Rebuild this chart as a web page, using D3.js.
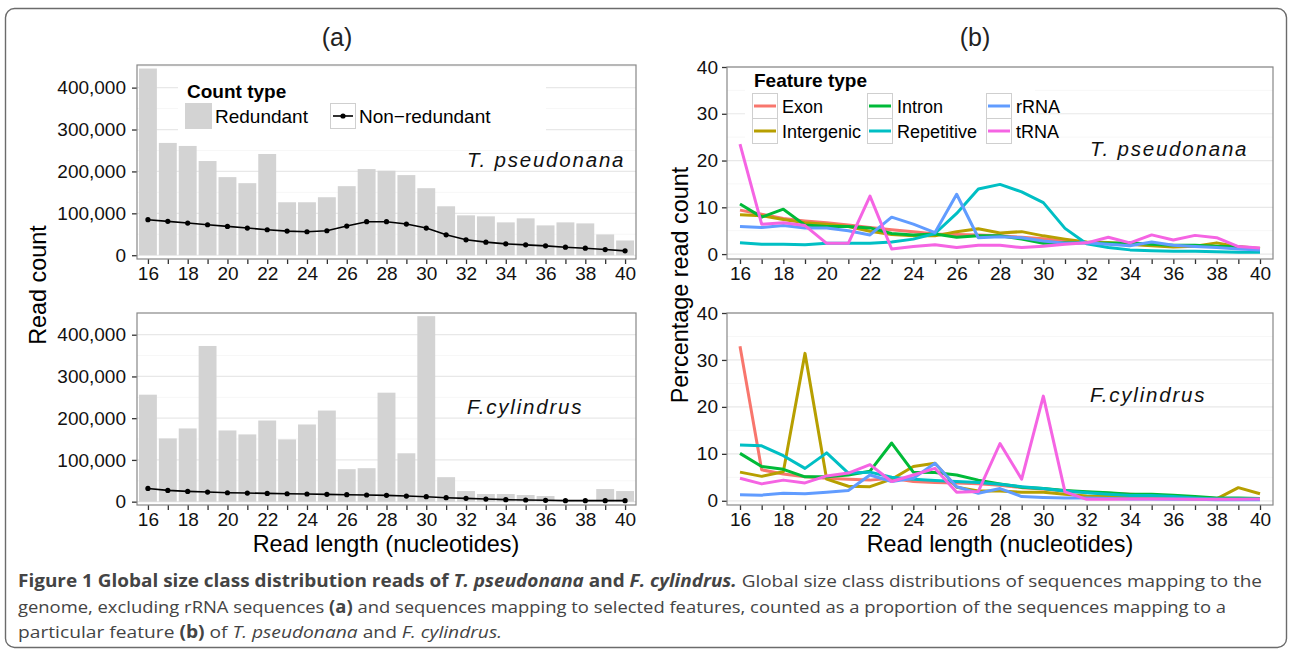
<!DOCTYPE html>
<html>
<head>
<meta charset="utf-8">
<script src="https://cdn.jsdelivr.net/npm/d3@7"></script>
<style>
body { margin: 0; background: #fff; }
svg { display: block; font-family: "Liberation Sans", Arial, sans-serif; }
</style>
</head>
<body>
<svg id="fig" width="1290" height="651"></svg>
<script>
// read lengths (x categories)
const readLengths = [16, 17, 18, 19, 20, 21, 22, 23, 24, 25, 26, 27, 28, 29, 30, 31, 32, 33, 34, 35, 36, 37, 38, 39, 40]

// (a) read counts
const tpRedundant = [445600, 268000, 260800, 224800, 186400, 172000, 241600, 126400, 126400, 138400, 164800, 205600, 201600, 191200, 160000, 116800, 95200, 92800, 78400, 88000, 71200, 78400, 76000, 49600, 35200]
const tpNonRedundant = [84800, 80800, 76800, 72800, 68800, 64800, 60800, 57600, 56000, 58400, 69600, 80000, 80000, 74400, 64800, 48800, 36800, 31200, 27200, 24800, 22400, 19200, 16800, 13600, 10400]
const fcRedundant = [256300, 151600, 175400, 373000, 170600, 161100, 194400, 149200, 184900, 218300, 77800, 80200, 261100, 115900, 444400, 58700, 25400, 18300, 18300, 15900, 13500, 1000, 800, 30200, 25400]
const fcNonRedundant = [31700, 27000, 24600, 23000, 21400, 20600, 19800, 19000, 18300, 17500, 16700, 15900, 15100, 13500, 11900, 9500, 7900, 6300, 4800, 4000, 3200, 2400, 2400, 2400, 2400]

// (b) percentage read count per feature type
const featureTypes = ['Exon', 'Intergenic', 'Intron', 'Repetitive', 'rRNA', 'tRNA']
const featureColors = ['#F8766D', '#B79F00', '#00BA38', '#00BFC4', '#619CFF', '#F564E3']

const tpExon = [9.4, 8.5, 7.6, 7.1, 6.7, 6.2, 5.7, 5.2, 4.8, 4.3, 4.2, 4.1, 3.9, 3.6, 3.3, 2.8, 2.4, 2.2, 2.1, 1.9, 1.8, 1.6, 1.6, 1.4, 1.1]
const tpIntergenic = [8.4, 8.2, 7.4, 6.7, 6.4, 5.9, 4.9, 4.2, 3.9, 3.9, 4.8, 5.4, 4.5, 4.8, 3.9, 3.2, 2.6, 2.5, 2.1, 1.8, 1.5, 1.7, 2.4, 1.6, 1.2]
const tpIntron = [10.7, 7.9, 9.6, 6.2, 5.9, 5.9, 5.6, 4.4, 4.1, 4.3, 3.6, 3.9, 3.9, 3.2, 2.3, 2.4, 2.4, 2.3, 2.4, 2.1, 1.9, 1.9, 1.7, 1.5, 1.1]
const tpRepetitive = [2.4, 2.1, 2.1, 2.0, 2.3, 2.3, 2.3, 2.6, 3.2, 4.4, 8.7, 13.9, 14.9, 13.3, 11.0, 5.5, 2.2, 1.4, 0.9, 0.7, 0.6, 0.6, 0.5, 0.4, 0.4]
const tpRRNA = [5.9, 5.7, 6.1, 5.6, 5.6, 5.0, 4.1, 7.9, 6.4, 4.6, 12.8, 3.5, 3.7, 3.5, 2.8, 2.3, 2.4, 2.1, 1.8, 2.6, 1.9, 1.6, 1.4, 1.1, 0.9]
const tpTRNA = [23.5, 6.4, 6.7, 6.1, 2.3, 2.3, 12.4, 1.1, 1.6, 2.0, 1.4, 1.9, 1.9, 1.4, 1.7, 2.1, 2.4, 3.6, 2.4, 4.1, 3.0, 4.0, 3.5, 1.6, 1.3]

const fcExon = [32.9, 6.6, 5.7, 5.1, 4.8, 4.6, 4.4, 4.8, 4.1, 3.9, 3.8, 3.6, 3.3, 2.8, 2.5, 2.1, 1.8, 1.6, 1.4, 1.2, 1.0, 0.7, 0.5, 0.4, 0.4]
const fcIntergenic = [6.1, 5.2, 6.2, 31.4, 4.6, 3.1, 3.0, 4.6, 7.3, 8.0, 2.9, 2.1, 2.1, 1.8, 1.8, 1.4, 1.0, 0.9, 0.7, 0.6, 0.6, 0.4, 0.4, 2.8, 1.5]
const fcIntron = [10.1, 7.3, 6.7, 5.1, 5.1, 5.5, 6.3, 12.3, 6.1, 6.0, 5.5, 4.4, 3.6, 2.9, 2.6, 2.2, 1.9, 1.7, 1.4, 1.4, 1.2, 0.9, 0.6, 0.6, 0.5]
const fcRepetitive = [11.9, 11.7, 9.6, 6.9, 10.2, 5.9, 6.1, 5.0, 4.6, 4.3, 4.1, 3.9, 3.5, 3.0, 2.6, 2.1, 1.7, 1.4, 1.1, 1.1, 0.9, 0.6, 0.4, 0.4, 0.4]
const fcRRNA = [1.3, 1.2, 1.6, 1.5, 1.8, 2.2, 5.5, 4.1, 4.8, 8.0, 3.0, 1.6, 2.6, 0.9, 0.7, 0.6, 0.6, 0.5, 0.4, 0.4, 0.3, 0.3, 0.2, 0.2, 0.2]
const fcTRNA = [4.8, 3.6, 4.4, 3.8, 5.3, 5.9, 7.7, 4.1, 5.5, 6.9, 1.8, 2.0, 12.2, 4.6, 22.3, 1.9, 0.3, 0.3, 0.4, 0.4, 0.4, 0.3, 0.3, 0.3, 0.4]

const countTicks = [0, 100000, 200000, 300000, 400000]
const pctTicks = [0, 10, 20, 30, 40]

const svg = d3.select('#fig')

// outer frame
svg.append('rect')
    .attr('x', 5.5).attr('y', 8.5)
    .attr('width', 1281).attr('height', 639)
    .attr('rx', 9)
    .attr('fill', 'none')
    .attr('stroke', '#6b6b6b')
    .attr('stroke-width', 1.4)

// panel titles
svg.append('text').attr('x', 337).attr('y', 46).attr('text-anchor', 'middle')
    .attr('font-size', 25).attr('fill', '#222').text('(a)')
svg.append('text').attr('x', 975).attr('y', 46).attr('text-anchor', 'middle')
    .attr('font-size', 25).attr('fill', '#222').text('(b)')

function drawPanel(p) {
    const g = svg.append('g')
    const x = d3.scaleLinear().domain(p.xDomain).range([p.left, p.right])
    const y = d3.scaleLinear().domain(p.yDomain).range([p.bottom, p.top])

    g.append('rect')
        .attr('x', p.left).attr('y', p.top)
        .attr('width', p.right - p.left).attr('height', p.bottom - p.top)
        .attr('fill', '#fff')

    // minor grid
    const step = p.ticks[1] - p.ticks[0]
    const minor = p.ticks.map(t => t + step / 2).filter(v => y(v) > p.top + 1)
    g.selectAll('.minor').data(minor).enter().append('line')
        .attr('x1', p.left).attr('x2', p.right)
        .attr('y1', d => y(d)).attr('y2', d => y(d))
        .attr('stroke', '#f7f7f7').attr('stroke-width', 1)
    g.selectAll('.major').data(p.ticks).enter().append('line')
        .attr('x1', p.left).attr('x2', p.right)
        .attr('y1', d => y(d)).attr('y2', d => y(d))
        .attr('stroke', '#e8e8e8').attr('stroke-width', 1.2)

    const yAxis = d3.axisLeft(y).tickValues(p.ticks).tickSize(5).tickPadding(p.yPad)
        .tickFormat(p.yFormat)
    const xAxis = d3.axisBottom(x).tickValues(readLengths).tickSize(5).tickPadding(3)
        .tickFormat(d => d % 2 === 0 ? d : '')

    const ya = g.append('g').attr('transform', 'translate(' + p.left + ',0)').call(yAxis)
    const xa = g.append('g').attr('transform', 'translate(0,' + p.bottom + ')').call(xAxis)
    for (const a of [ya, xa]) {
        a.select('.domain').remove()
        a.selectAll('line').attr('stroke', '#333').attr('stroke-width', 1.3)
        a.selectAll('text').attr('font-size', 19).attr('fill', '#111')
            .attr('font-family', '"Liberation Sans", Arial, sans-serif')
    }

    return { g, x, y, layer: g.append('g') }
}

function finishPanel(p) {
    svg.append('rect')
        .attr('x', p.left).attr('y', p.top)
        .attr('width', p.right - p.left).attr('height', p.bottom - p.top)
        .attr('fill', 'none').attr('stroke', '#888').attr('stroke-width', 1.2)
}

function speciesLabel(txt, x, y) {
    svg.append('text').attr('x', x).attr('y', y)
        .attr('font-size', 20.5).attr('font-style', 'italic')
        .attr('letter-spacing', 1.8).attr('fill', '#111').text(txt)
}

// ---------- (a) read counts ----------
const countPanels = [
    { top: 65, bottom: 259, redundant: tpRedundant, nonRedundant: tpNonRedundant, yDomain: [-9000, 454000], label: 'T. pseudonana', ly: 167 },
    { top: 313, bottom: 505, redundant: fcRedundant, nonRedundant: fcNonRedundant, yDomain: [-8000, 452000], label: 'F.cylindrus', ly: 414 }
]

countPanels.forEach(cp => {
    const p = Object.assign({ left: 137, right: 636, xDomain: [15.45, 40.55], ticks: countTicks, yPad: 6, yFormat: d3.format(',') }, cp)
    const { x, y, layer } = drawPanel(p)
    const bw = (x(17) - x(16)) * 0.9

    layer.selectAll('rect').data(readLengths).enter().append('rect')
        .attr('x', d => x(d) - bw / 2)
        .attr('width', bw)
        .attr('y', (d, i) => y(p.redundant[i]))
        .attr('height', (d, i) => y(0) - y(p.redundant[i]))
        .attr('fill', '#d3d3d3')

    const line = d3.line().x((d, i) => x(readLengths[i])).y(d => y(d))
    layer.append('path').datum(p.nonRedundant)
        .attr('d', line).attr('fill', 'none')
        .attr('stroke', '#000').attr('stroke-width', 1.6)
    layer.selectAll('circle').data(p.nonRedundant).enter().append('circle')
        .attr('cx', (d, i) => x(readLengths[i])).attr('cy', d => y(d))
        .attr('r', 2.6).attr('fill', '#000')

    finishPanel(p)
    speciesLabel(p.label, 467, p.ly)
})

// legend (a)
const legA = svg.append('g')
legA.append('rect').attr('x', 178).attr('y', 72).attr('width', 368).attr('height', 64).attr('fill', '#fff')
legA.append('text').attr('x', 187).attr('y', 98).attr('font-size', 19).attr('font-weight', 'bold').text('Count type')
legA.append('rect').attr('x', 185).attr('y', 103).attr('width', 27).attr('height', 26).attr('fill', '#d3d3d3')
legA.append('text').attr('x', 215).attr('y', 123).attr('font-size', 19).text('Redundant')
legA.append('rect').attr('x', 330.5).attr('y', 103.5).attr('width', 25).attr('height', 25)
    .attr('fill', '#fff').attr('stroke', '#cfcfcf')
legA.append('line').attr('x1', 333).attr('x2', 353).attr('y1', 116).attr('y2', 116)
    .attr('stroke', '#000').attr('stroke-width', 1.6)
legA.append('circle').attr('cx', 343).attr('cy', 116).attr('r', 2.6)
legA.append('text').attr('x', 359).attr('y', 123).attr('font-size', 19).text('Non\u2212redundant')

// ---------- (b) percentages ----------
const pctPanels = [
    { top: 67, bottom: 259, yDomain: [-1.05, 40], series: [tpExon, tpIntergenic, tpIntron, tpRepetitive, tpRRNA, tpTRNA], label: 'T. pseudonana', ly: 156 },
    { top: 313, bottom: 505, yDomain: [-0.9, 40], series: [fcExon, fcIntergenic, fcIntron, fcRepetitive, fcRRNA, fcTRNA], label: 'F.cylindrus', ly: 402 }
]

pctPanels.forEach(pp => {
    const p = Object.assign({ left: 727, right: 1273, xDomain: [15.4, 40.6], ticks: pctTicks, yPad: 4, yFormat: d3.format('d') }, pp)
    const { x, y, layer } = drawPanel(p)
    const line = d3.line().x((d, i) => x(readLengths[i])).y(d => y(d))
    p.series.forEach((s, k) => {
        layer.append('path').datum(s)
            .attr('d', line).attr('fill', 'none')
            .attr('stroke', featureColors[k]).attr('stroke-width', 3)
            .attr('stroke-linejoin', 'round')
    })
    finishPanel(p)
    speciesLabel(p.label, 1090, p.ly)
})

// legend (b)
const legB = svg.append('g')
legB.append('rect').attr('x', 745).attr('y', 69).attr('width', 290).attr('height', 78).attr('fill', '#fff')
legB.append('text').attr('x', 754).attr('y', 87).attr('font-size', 19).attr('font-weight', 'bold').text('Feature type')
const colX = [752, 867, 986]
const rowY = [93, 118]
featureTypes.forEach((f, k) => {
    const cx = colX[Math.floor(k / 2)]
    const ry = rowY[k % 2]
    legB.append('rect').attr('x', cx + 0.5).attr('y', ry + 0.5).attr('width', 25).attr('height', 25)
        .attr('fill', '#fff').attr('stroke', '#cfcfcf')
    legB.append('line').attr('x1', cx + 2).attr('x2', cx + 24).attr('y1', ry + 13).attr('y2', ry + 13)
        .attr('stroke', featureColors[k]).attr('stroke-width', 3)
    legB.append('text').attr('x', cx + 30).attr('y', ry + 20).attr('font-size', 18).text(f)
})

// axis titles
svg.append('text').attr('transform', 'translate(46,285) rotate(-90)').attr('text-anchor', 'middle')
    .attr('font-size', 23.4).text('Read count')
svg.append('text').attr('transform', 'translate(688,285) rotate(-90)').attr('text-anchor', 'middle')
    .attr('font-size', 23.4).text('Percentage read count')
svg.append('text').attr('x', 386).attr('y', 552).attr('text-anchor', 'middle')
    .attr('font-size', 23.4).text('Read length (nucleotides)')
svg.append('text').attr('x', 1000).attr('y', 552).attr('text-anchor', 'middle')
    .attr('font-size', 23.4).text('Read length (nucleotides)')

// caption
const capFont = '"Open Sans", "Noto Sans", sans-serif'
const captionLines = [
    { y: 587, len: 1244, parts: [
        ['Figure 1 Global size class distribution reads of ', 'bold', 'normal'],
        ['T. pseudonana', 'bold', 'italic'],
        [' and ', 'bold', 'normal'],
        ['F. cylindrus.', 'bold', 'italic'],
        [' Global size class distributions of sequences mapping to the', 'normal', 'normal']] },
    { y: 613, len: 1208, parts: [
        ['genome, excluding rRNA sequences ', 'normal', 'normal'],
        ['(a)', 'bold', 'normal'],
        [' and sequences mapping to selected features, counted as a proportion of the sequences mapping to a', 'normal', 'normal']] },
    { y: 638, len: 484, parts: [
        ['particular feature ', 'normal', 'normal'],
        ['(b)', 'bold', 'normal'],
        [' of ', 'normal', 'normal'],
        ['T. pseudonana', 'normal', 'italic'],
        [' and ', 'normal', 'normal'],
        ['F. cylindrus.', 'normal', 'italic']] }
]
captionLines.forEach(cl => {
    const t = svg.append('text').attr('x', 18).attr('y', cl.y)
        .attr('font-family', capFont).attr('font-size', 17).attr('fill', '#444')
        .attr('textLength', cl.len).attr('lengthAdjust', 'spacingAndGlyphs')
    cl.parts.forEach(pt => {
        t.append('tspan').attr('font-weight', pt[1]).attr('font-style', pt[2]).text(pt[0])
    })
})
</script>
</body>
</html>
